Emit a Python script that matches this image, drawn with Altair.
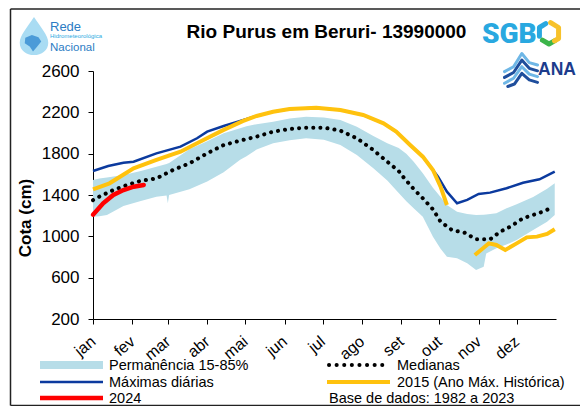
import altair as alt
import pandas as pd

FONT = "Liberation Sans, Arial, Helvetica, sans-serif"

# ---------------- data ----------------
month_labels = ["jan", "fev", "mar", "abr", "mai", "jun", "jul", "ago", "set", "out", "nov", "dez"]
month_start = [0, 31, 59, 90, 120, 151, 181, 212, 243, 273, 304, 334]
y_ticks = [200, 600, 1000, 1400, 1800, 2200, 2600]

# Permanência 15-85 % band
band_day = [0, 5, 11, 24, 37, 50, 58, 59, 60, 76, 90, 103, 116, 121, 129, 142, 155, 168, 182, 195,
            208, 221, 232, 241, 247, 253, 260, 268, 274, 279, 287, 295, 302, 308, 310, 318, 326, 334,
            347, 358, 364]
band_upper = [1545, 1560, 1570, 1594, 1630, 1674, 1700, 1705, 1710, 1842, 1920, 1997, 2045, 2065, 2085,
              2110, 2140, 2158, 2150, 2126, 2060, 1970, 1900, 1855, 1800, 1720, 1610, 1470, 1380, 1303,
              1239, 1215, 1207, 1210, 1212, 1223, 1271, 1310, 1380, 1460, 1513]
band_lower = [1190, 1195, 1206, 1293, 1340, 1384, 1395, 1320, 1400, 1455, 1530, 1620, 1740, 1775, 1840,
              1900, 1930, 1949, 1935, 1884, 1787, 1658, 1540, 1420, 1340, 1270, 1190, 997, 880, 803,
              787, 739, 674, 706, 835, 884, 920, 965, 1061, 1142, 1206]

# Medianas
med_day = [0, 5, 16, 27, 37, 50, 63, 76, 90, 103, 116, 129, 142, 155, 168, 182, 195, 208, 221, 232,
           241, 245, 253, 260, 268, 274, 283, 293, 302, 313, 321, 329, 339, 347, 356, 362]
med_val = [1350, 1384, 1448, 1497, 1535, 1561, 1642, 1706, 1803, 1884, 1926, 1965, 2013, 2039, 2052,
           2052, 2023, 1949, 1835, 1722, 1632, 1568, 1455, 1368, 1261, 1142, 1061, 1035, 971, 971,
           1045, 1094, 1175, 1207, 1245, 1281]

# Máximas diárias
max_day = [0, 12, 24, 32, 50, 69, 82, 90, 103, 118, 129, 142, 155, 176, 195, 213, 229, 239, 250, 260,
           268, 272, 279, 287, 295, 304, 313, 326, 339, 352, 364]
max_val = [1632, 1680, 1713, 1722, 1803, 1868, 1949, 2013, 2068, 2125, 2165, 2206, 2232, 2245, 2223,
           2174, 2094, 2013, 1884, 1771, 1642, 1578, 1432, 1320, 1352, 1410, 1423, 1465, 1519, 1552, 1626]

# 2015 (two pieces, gap in October)
y2015a_day = [0, 13, 32, 50, 69, 82, 103, 118, 129, 142, 155, 176, 195, 213, 229, 239, 250, 260, 268, 274, 279]
y2015a_val = [1455, 1513, 1658, 1739, 1819, 1900, 2030, 2115, 2165, 2206, 2232, 2245, 2223, 2174, 2094,
              2013, 1884, 1771, 1642, 1481, 1303]
y2015b_day = [301, 307, 312, 318, 325, 334, 342, 350, 358, 364]
y2015b_val = [819, 880, 932, 916, 868, 932, 990, 997, 1023, 1068]

# 2024
y2024_day = [0, 8, 16, 24, 32, 40]
y2024_val = [1210, 1320, 1400, 1448, 1480, 1497]

# ---------------- tables ----------------
band_df = pd.DataFrame({"day": band_day, "lower": band_lower, "upper": band_upper})
med_df = pd.DataFrame({"day": med_day, "val": med_val})
max_df = pd.DataFrame({"day": max_day, "val": max_val})
y2015_df = pd.concat([
    pd.DataFrame({"day": y2015a_day, "val": y2015a_val, "seg": "a"}),
    pd.DataFrame({"day": y2015b_day, "val": y2015b_val, "seg": "b"}),
])
y2024_df = pd.DataFrame({"day": y2024_day, "val": y2024_val})
one = pd.DataFrame({"k": [0]})

C_BAND = "#b7dde8"
C_BLUE = "#0b3a9e"
C_YEL = "#ffc20e"
C_RED = "#ff0000"

label_expr = ("[" + ",".join(f"'{m}'" for m in month_labels) + "][indexof(["
              + ",".join(str(d) for d in month_start) + "], datum.value)]")

x_scale = alt.Scale(domain=[0, 365], nice=False, zero=False)
y_scale = alt.Scale(domain=[200, 2600], nice=False, zero=False)
x_axis = alt.Axis(values=month_start, labelExpr=label_expr, title=None, grid=False, tickSize=5,
                  labelAngle=-40, labelAlign="right", labelBaseline="middle", labelPadding=15,
                  labelFontSize=16, labelOverlap=False, labelFlush=False, labelBound=False,
                  domainColor="black", tickColor="black", labelColor="black", labelFont=FONT)
y_axis = alt.Axis(values=y_ticks, format="d", title=None, grid=False, tickSize=5, labelPadding=9,
                  labelFontSize=17, domainColor="black", tickColor="black", labelColor="black",
                  labelFont=FONT)
X = alt.X("day:Q", scale=x_scale, axis=x_axis)
Y = alt.Y("val:Q", scale=y_scale, axis=y_axis)

OX, OY = 93, 71  # page position of plot origin


def px(v):
    return alt.value(v - OX)


def py(v):
    return alt.value(v - OY)


layers = []
layers.append(alt.Chart(band_df).mark_area(color=C_BAND, opacity=1).encode(
    x=X, y=alt.Y("lower:Q", scale=y_scale, axis=y_axis), y2="upper:Q"))
layers.append(alt.Chart(max_df).mark_line(color=C_BLUE, strokeWidth=2.5).encode(x=X, y=Y))
layers.append(alt.Chart(med_df).mark_line(color="black", strokeWidth=4, strokeDash=[0.1, 7],
                                          strokeCap="round").encode(x=X, y=Y))
layers.append(alt.Chart(y2015_df).mark_line(color=C_YEL, strokeWidth=4).encode(x=X, y=Y, detail="seg:N"))
layers.append(alt.Chart(y2024_df).mark_line(color=C_RED, strokeWidth=4.5, strokeCap="round").encode(x=X, y=Y))


def text(s, x, y, size=14.5, weight="normal", color="black", align="left", font=FONT, angle=0,
         baseline="alphabetic"):
    return alt.Chart(one).mark_text(text=s, fontSize=size, fontWeight=weight, color=color, align=align,
                                    baseline=baseline, font=font, angle=angle).encode(x=px(x), y=py(y))


def hrule(x1, x2, y, color, width, **kw):
    return alt.Chart(one).mark_rule(color=color, strokeWidth=width, **kw).encode(
        x=px(x1), x2=px(x2), y=py(y))


def vrule(x, y1, y2, color, width):
    return alt.Chart(one).mark_rule(color=color, strokeWidth=width).encode(
        x=px(x), y=py(y1), y2=py(y2))


def shape(path, x, y, size, color, filled=True, width=1, opacity=1):
    return alt.Chart(one).mark_point(shape=path, size=size, filled=filled, color=color,
                                     strokeWidth=width, opacity=opacity, strokeCap="round",
                                     strokeJoin="round").encode(x=px(x), y=py(y))


# frame
layers += [hrule(10.5, 580, 9, "#222", 1.5), vrule(10.5, 9, 405.5, "#222", 1.5),
           hrule(10.5, 580, 405.5, "#222", 1.5)]

# title and axis title
layers.append(text("Rio Purus em Beruri- 13990000", 326.5, 38, size=19, weight="bold", align="center"))
layers.append(text("Cota (cm)", 26, 218, size=17, weight="bold", align="center", angle=270,
                   baseline="middle"))

# legend
r1, r2, r3 = 365, 382, 398
layers.append(alt.Chart(one).mark_rect(color=C_BAND).encode(x=px(40), x2=px(103), y=py(r1 - 4), y2=py(r1 + 4)))
layers.append(text("Permanência 15-85%", 109, r1 + 5))
layers.append(hrule(329, 389, r1, "black", 4, strokeDash=[0.1, 7.5], strokeCap="round"))
layers.append(text("Medianas", 397, r1 + 5))
layers.append(hrule(40, 103, r2, C_BLUE, 2.5))
layers.append(text("Máximas diárias", 109, r2 + 5))
layers.append(hrule(327, 390, r2, C_YEL, 4))
layers.append(text("2015 (Ano Máx. Histórica)", 397, r2 + 5))
layers.append(hrule(40, 103, r3, C_RED, 4.5))
layers.append(text("2024", 109, r3 + 5))
layers.append(text("Base de dados: 1982 a 2023", 329, r3 + 5))

# logo: Rede Hidrometeorológica Nacional
drop = ("M0,-1 C0.35,-0.45 0.75,-0.05 0.75,0.35 C0.75,0.75 0.4,1 0,1 C-0.4,1 -0.75,0.75 -0.75,0.35 "
        "C-0.75,-0.05 -0.35,-0.45 0,-1 Z")
brazil = "M-0.7,-0.3 L-0.1,-0.55 L0.5,-0.35 L0.75,0.05 L0.35,0.55 L0,0.95 L-0.3,0.5 L-0.75,0.2 Z"
layers.append(shape(drop, 34, 36, 1444, "#a9dcf3"))
layers.append(shape(brazil, 33, 41, 484, "#3b8fd2", opacity=0.85))
layers.append(text("Rede", 50, 30.5, size=13, color="#2c7cc4"))
layers.append(text("Hidrometeorológica", 50, 38, size=6, color="#29abe2"))
layers.append(text("Nacional", 50, 50.5, size=11.5, color="#2c7cc4"))

# logo: SGB
layers.append(text("SGB", 482, 43, size=28, weight=900, color="#29a8e0", font="Roboto, Inter, sans-serif"))
layers.append(shape("M-0.3,-0.85 L-0.87,-0.5 L-0.87,0.3", 549, 33, 484, "#29a8e0", filled=False, width=5))
layers.append(shape("M-0.6,0.65 L0,1 L0.5,0.72", 549, 33, 484, "#3cb54a", filled=False, width=5))
layers.append(shape("M0.15,-0.95 L0.87,-0.5 L0.87,0.5 L0.5,0.72", 549, 33, 484, "#f7c22b", filled=False, width=5))

# logo: ANA
layers.append(shape("M-1,0.1 L-0.45,-0.2 L0.05,-1 L0.5,-0.45 L1,-0.3", 521, 70, 1089, "#6fb7e6", filled=False, width=3))
layers.append(shape("M-1,0.45 L-0.45,0.15 L0.05,-0.6 L0.5,-0.1 L1,0.05", 521, 70, 1089, "#1f4e9c", filled=False, width=3))
layers.append(shape("M-1,0.8 L-0.45,0.5 L0.05,-0.2 L0.5,0.25 L1,0.4", 521, 70, 1089, "#6fb7e6", filled=False, width=3))
layers.append(shape("M-0.8,1 L-0.4,0.85 L0.05,0.2 L0.5,0.6 L1,0.75", 521, 70, 1089, "#1f4e9c", filled=False, width=3))
layers.append(text("ANA", 538, 75, size=17.5, weight="bold", color="#1c3c8c"))

chart = alt.layer(*layers).properties(
    width=463, height=248,
    autosize=alt.AutoSizeParams(type="none"),
    padding={"left": 85, "top": 63, "right": 24, "bottom": 87},
    background="white",
).configure_view(stroke=None)

chart.save("out.html", embed_options={"renderer": "svg", "actions": False})
